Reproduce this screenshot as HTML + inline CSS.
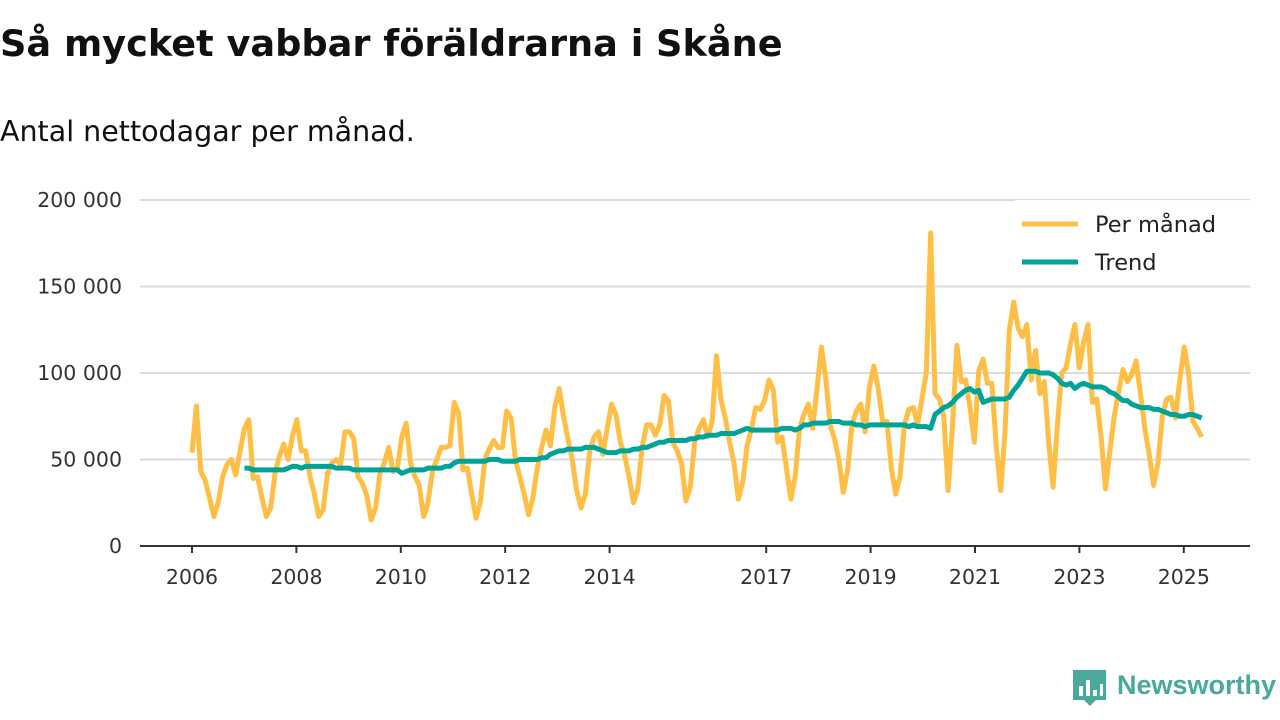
<!DOCTYPE html>
<html><head><meta charset="utf-8"><style>
body{margin:0;width:1280px;height:720px;background:#fff;font-family:"DejaVu Sans","Liberation Sans",sans-serif;overflow:hidden}
#title{position:absolute;left:0;top:22px;font-size:36.7px;font-weight:bold;color:#111;white-space:nowrap}
#sub{position:absolute;left:0;top:115px;font-size:28.5px;color:#111;white-space:nowrap}
svg{position:absolute;left:0;top:0}
</style></head><body>
<div id="title">Så mycket vabbar föräldrarna i Skåne</div>
<div id="sub">Antal nettodagar per månad.</div>
<svg id="c" width="1280" height="720"></svg>
<script>
const monthly=[54,81,43,38,28,17,25,40,47,50,41,55,
68,73,39,40,28,17,22,42,52,59,50,64,
73,55,55,40,30,17,21,42,48,50,47,66,
66,62,40,36,29,15,22,42,48,57,43,45,
63,71,48,40,35,17,25,43,50,57,57,58,
83,77,44,45,30,16,26,50,56,61,57,57,
78,74,50,40,30,18,28,45,57,67,58,80,
91,75,62,50,32,22,30,55,63,66,53,68,
82,76,60,52,40,25,33,57,70,70,64,70,
87,84,60,55,48,26,34,60,68,73,63,72,
110,85,74,60,48,27,37,58,68,80,79,84,
96,90,60,63,45,27,40,68,76,82,68,91,
115,97,70,62,50,31,44,70,78,82,66,92,
104,91,72,72,45,30,40,70,79,80,70,85,
100,181,88,85,75,32,70,116,95,96,80,60,
101,108,94,94,58,32,65,125,141,126,121,128,
96,113,88,95,60,34,70,100,103,117,128,103,
118,128,83,85,63,33,55,75,89,102,95,99,
107,88,68,53,35,48,75,85,86,74,96,115,
100,72,68,63];
const trend=[45,45,44,44,44,44,44,44,44,44,45,46,
46,45,46,46,46,46,46,46,46,45,45,45,
45,44,44,44,44,44,44,44,44,44,44,44,
42,43,44,44,44,44,45,45,45,45,46,46,
48,49,49,49,49,49,49,49,50,50,50,49,
49,49,49,50,50,50,50,50,51,51,53,54,
55,55,56,56,56,56,57,57,57,56,55,54,
54,54,55,55,55,56,56,57,57,58,59,60,
60,61,61,61,61,61,62,62,63,63,64,64,
64,65,65,65,65,66,67,68,67,67,67,67,
67,67,67,68,68,68,67,68,70,70,71,71,
71,71,72,72,72,71,71,71,70,70,69,70,
70,70,70,70,70,70,70,70,69,70,69,69,
69,68,76,78,80,81,83,86,88,90,91,89,
90,83,84,85,85,85,85,86,90,93,97,101,
101,101,100,100,100,99,97,94,93,94,91,93,
94,93,92,92,92,91,89,88,86,84,84,82,
81,80,80,80,79,79,78,77,76,76,75,75,
76,76,75,74];
const trendStart=12;
const yTicks=[0,50000,100000,150000,200000];
const yTickLabels=["0","50 000","100 000","150 000","200 000"];
const xTicks=[2006,2008,2010,2012,2014,2017,2019,2021,2023,2025];
const NS="http://www.w3.org/2000/svg";
const svg=document.getElementById('c');
const X=m=>192+m*(52.2/12);
const Xm=m=>192+m*(52.45/12);
const Xy=yr=>X((yr-2006)*12);
const Y=v=>546-v*1.73;
function mk(t,a){const e=document.createElementNS(NS,t);for(const k in a)e.setAttribute(k,a[k]);svg.appendChild(e);return e;}
yTicks.forEach((v,i)=>{
 if(v>0){const g=mk('line',{x1:140,x2:1250,y1:Y(v/1000),y2:Y(v/1000),stroke:'#dcdcdc','stroke-width':2});
 
 }
 const t=mk('text',{x:122,y:Y(v/1000)+7,'text-anchor':'end','font-size':20.5,fill:'#333'});t.textContent=yTickLabels[i];
 
 
});
const ax=mk('line',{x1:140,x2:1250,y1:546,y2:546,stroke:'#333','stroke-width':2});


xTicks.forEach(yr=>{
 const tk=mk('line',{x1:Xy(yr),x2:Xy(yr),y1:546,y2:553,stroke:'#333','stroke-width':2});
 
 
 const t=mk('text',{x:Xy(yr),y:584,'text-anchor':'middle','font-size':20.5,fill:'#333'});t.textContent=yr;
 
 
});
const p1=mk('polyline',{points:monthly.map((v,i)=>Xm(i)+','+Y(v)).join(' '),fill:'none',stroke:'#ffbf47','stroke-width':5,'stroke-linejoin':'round'});


const p2=mk('polyline',{points:trend.map((v,i)=>Xm(i+trendStart)+','+Y(v)).join(' '),fill:'none',stroke:'#00a398','stroke-width':5,'stroke-linejoin':'round'});


const lb=mk('rect',{x:1015,y:200,width:235,height:85,fill:'#fff','fill-opacity':0.9});


[['Per månad','#ffbf47',224],['Trend','#00a398',262]].forEach(([n,c,y])=>{
 const l=mk('line',{x1:1022,x2:1078,y1:y,y2:y,stroke:c,'stroke-width':5});
 
 
 const t=mk('text',{x:1095,y:y+8,'font-size':22.5,fill:'#222'});t.textContent=n;
 
 
});
const ic=mk('path',{d:'M1073 670 h33 v30 h-10 l-6 6 l-6 -6 h-11 z',fill:'#4aa89c'});


[[1079,686,4,10],[1086,680,4,16],[1093,690,4,6],[1100,684,3,12]].forEach(b=>{mk('rect',{x:b[0],y:b[1],width:b[2],height:b[3],fill:'#fff'});});
const lt=mk('text',{x:1117,y:694,'font-size':27,'font-weight':'bold',fill:'#4aa89c','font-family':'Liberation Sans, sans-serif'});lt.textContent='Newsworthy';


</script>
</body></html>
